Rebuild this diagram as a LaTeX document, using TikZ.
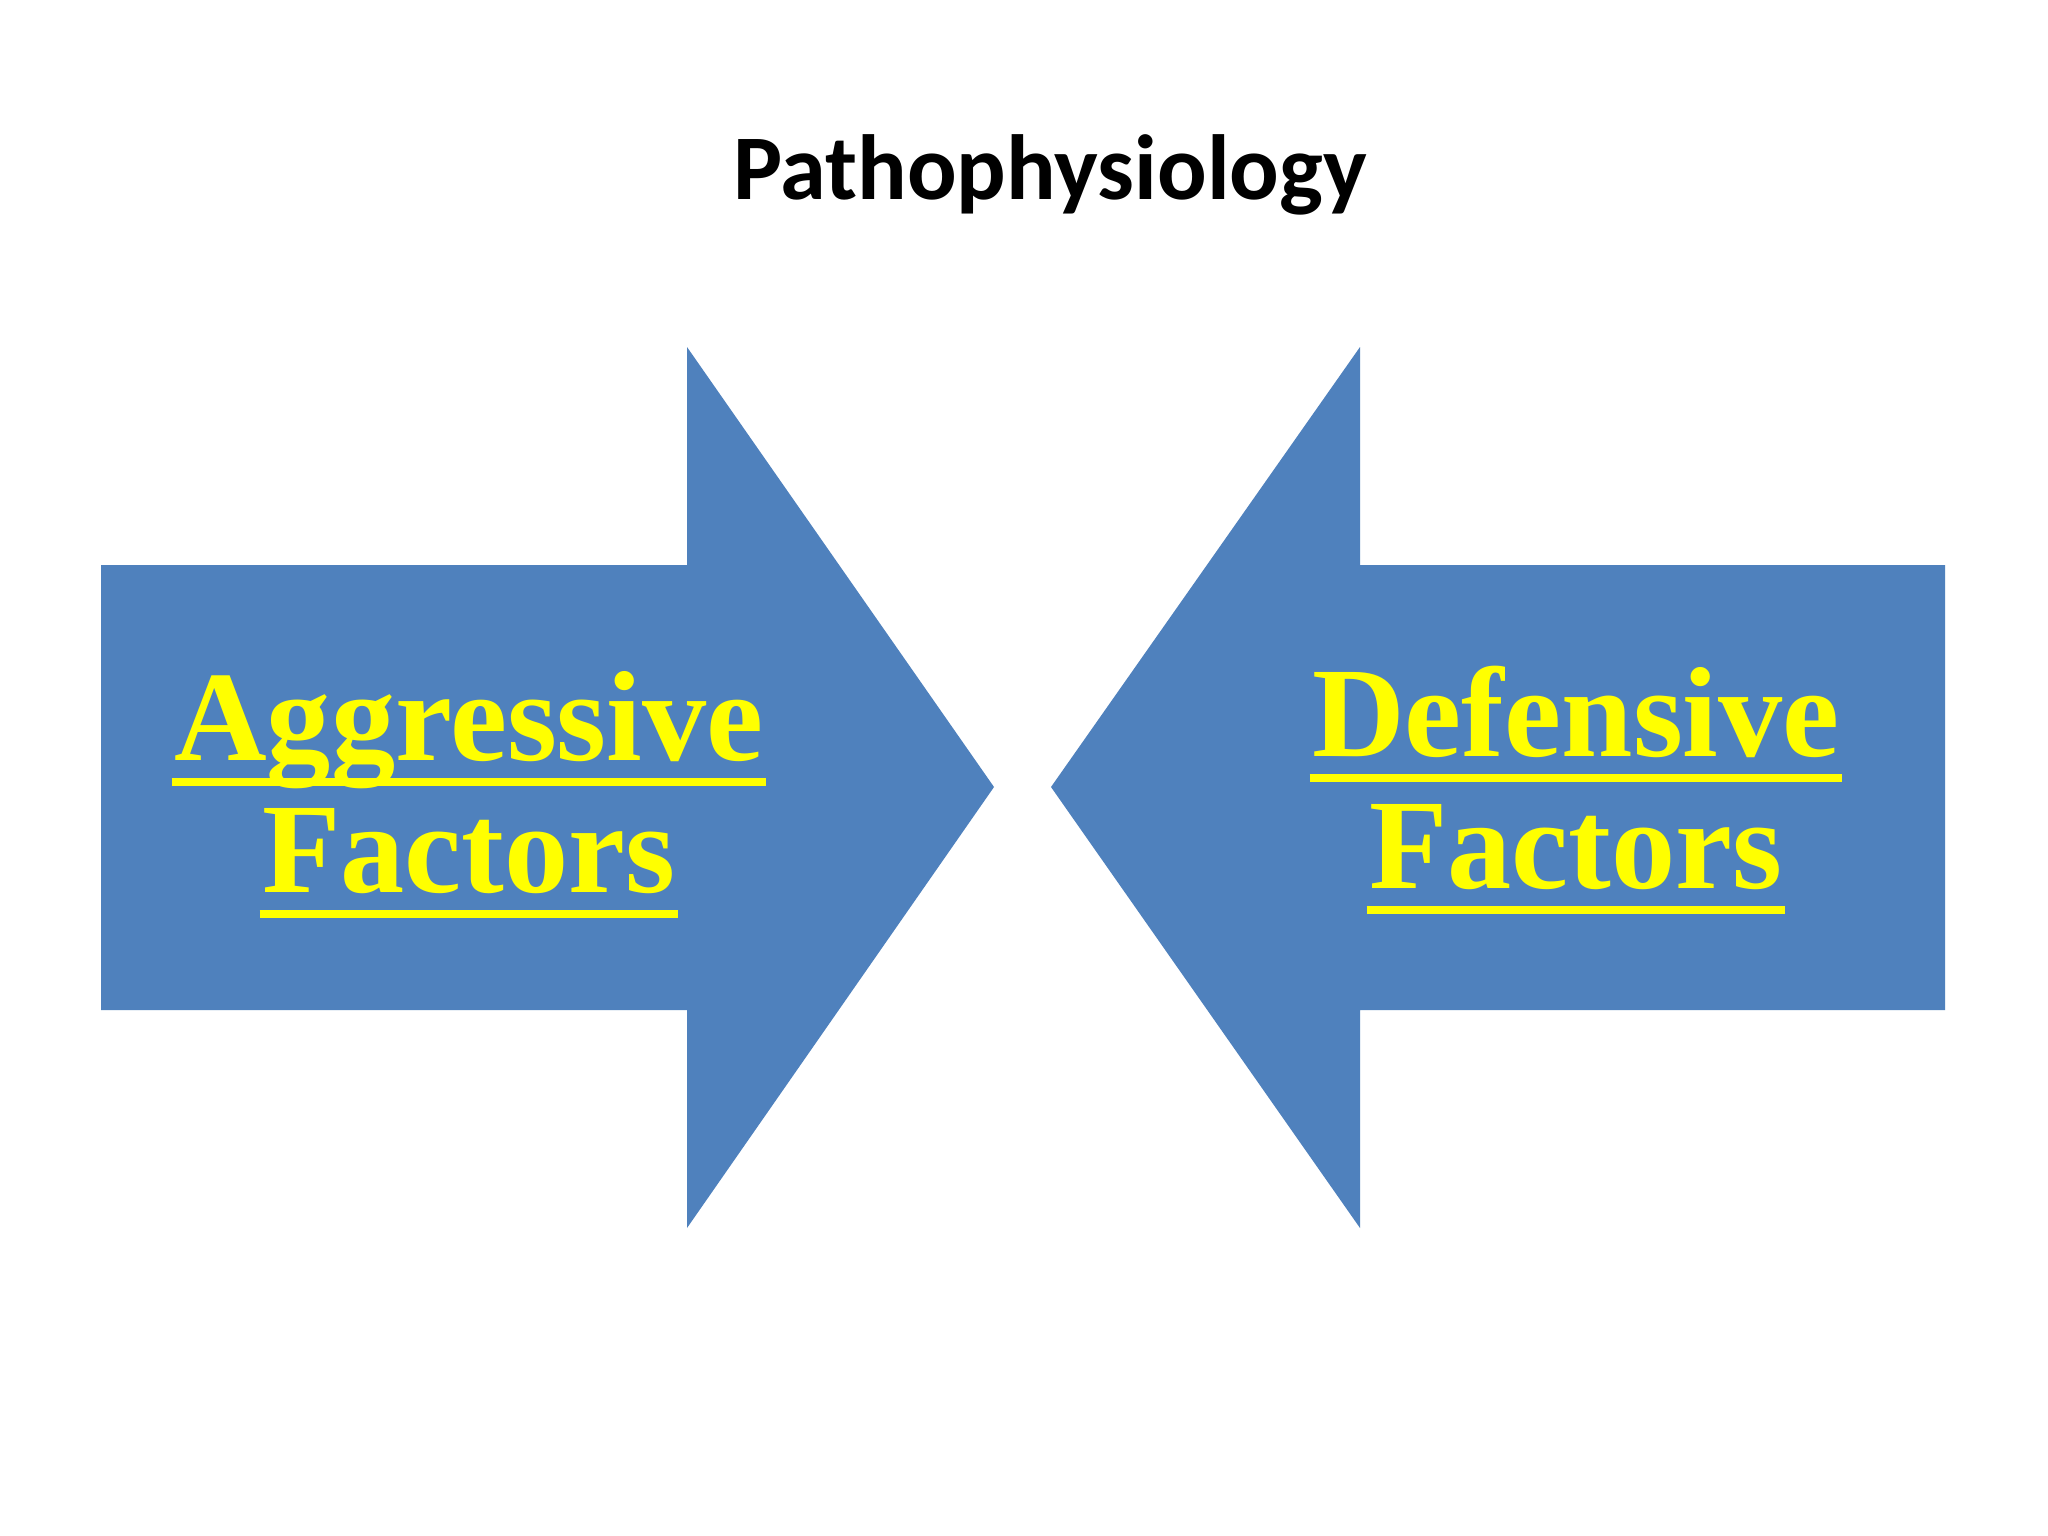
\documentclass[tikz,border=0pt]{standalone}
\usepackage{fontspec}
\setmainfont{Liberation Serif}
\newfontfamily\titlefont{Carlito}
\definecolor{arrowblue}{HTML}{4F81BD}
\definecolor{txtyellow}{HTML}{FFFF00}
\begin{document}
\begin{tikzpicture}[x=0.01cm,y=-0.01cm,
  bigarrow/.style={fill=arrowblue,draw=none},
  lbl/.style={text=txtyellow,font=\fontsize{36.5}{40}\selectfont\bfseries,inner sep=0pt,anchor=base},
  uline/.style={draw=txtyellow,line width=0.08cm}]
\fill[white] (0,0) rectangle (2048,1536);
\node[font=\titlefont\fontsize{26.3}{30}\selectfont\bfseries] (title) at (1050,175) {Pathophysiology};
\fill[bigarrow] (101,565) -- (687,565) -- (687,347) -- (994,787) -- (687,1228) -- (687,1010) -- (101,1010) -- cycle;
\fill[bigarrow] (1945,565) -- (1360,565) -- (1360,347) -- (1051,787) -- (1360,1228) -- (1360,1010) -- (1945,1010) -- cycle;
\node[lbl] (a1) at (469,760) {Aggressive};
\node[lbl] (a2) at (469,892) {Factors};
\node[lbl] (d1) at (1576,756) {Defensive};
\node[lbl] (d2) at (1576,888) {Factors};
\foreach \n in {a1,a2,d1,d2}
  \draw[uline] ([yshift=-0.22cm,xshift=-0.02cm]\n.base west) -- ([yshift=-0.22cm,xshift=0.02cm]\n.base east);
\end{tikzpicture}
\end{document}
